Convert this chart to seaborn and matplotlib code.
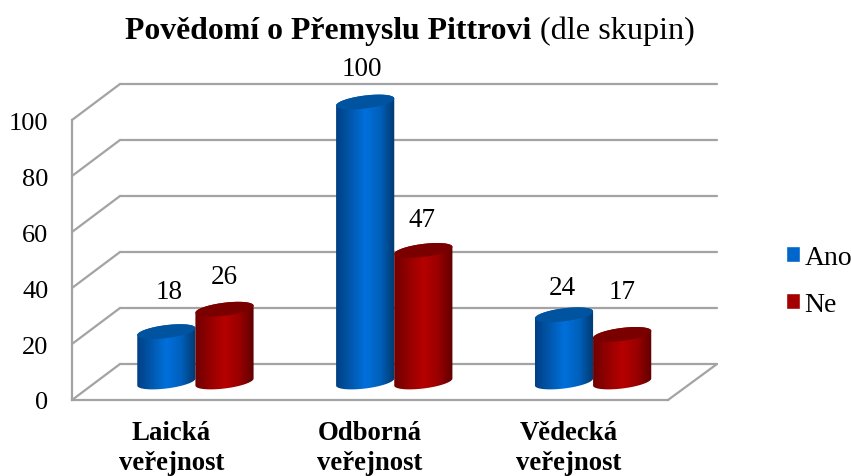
import matplotlib
matplotlib.use("Agg")
import matplotlib.pyplot as plt
from matplotlib.colors import LinearSegmentedColormap
from matplotlib.patches import ConnectionPatch, Polygon
import numpy as np
import pandas as pd
import seaborn as sns

categories = ['Laická\nveřejnost', 'Odborná\nveřejnost', 'Vědecká\nveřejnost']
ano_values = [18, 100, 24]
ne_values = [26, 47, 17]
y_ticks = [0, 20, 40, 60, 80, 100]

# label offsets above the bar top, in pixels
ano_label_shift = [(3, 40), (-3, 34), (-2, 27)]
ne_label_shift = [(0, 33), (-1, 31), (0, 43)]

W, H = 851, 477
GRID = '#a3a3a3'

sns.set_theme(style='white')
plt.rcParams['font.family'] = ['Liberation Serif', 'DejaVu Serif']

fig = plt.figure(figsize=(W / 100, H / 100), dpi=100)


def make_axes(left, right, top, bottom):
    ax = fig.add_axes([left / W, 1 - bottom / H, (right - left) / W, (bottom - top) / H])
    ax.patch.set_visible(False)
    return ax


# three planes of the fake 3D box: back wall, bars, front axis
ax_back = make_axes(120, 717, 85, 365)
ax_mid = make_axes(96, 692.5, 103, 383)
ax_front = make_axes(72, 668, 121, 401)

df = pd.DataFrame({
    'skupina': categories * 2,
    'odpoved': ['Ano'] * 3 + ['Ne'] * 3,
    'pocet': ano_values + ne_values,
})
sns.barplot(data=df, x='skupina', y='pocet', hue='odpoved', ax=ax_mid, width=0.585, gap=0,
            palette={'Ano': '#0066cc', 'Ne': '#a50000'}, saturation=1)
handles, labels = ax_mid.get_legend_handles_labels()
ax_mid.get_legend().remove()

for ax in (ax_back, ax_mid, ax_front):
    ax.set_xlim(-0.5, 2.5)
    ax.set_ylim(0, 100)
    ax.set_xlabel('')
    ax.set_ylabel('')
    sns.despine(ax=ax, left=True, bottom=True)

ax_mid.set_xticks([])
ax_mid.set_yticks([])

ax_back.set_xticks([])
ax_back.set_yticks(y_ticks)
ax_back.set_yticklabels([])
ax_back.grid(axis='y', color=GRID, lw=1.6)
for line in ax_back.get_ygridlines():
    line.set_clip_on(False)
ax_back.tick_params(length=0)

ax_front.set_xticks(range(3))
ax_front.set_xticklabels(categories, fontsize=19.3, fontweight='bold', linespacing=1.27)
ax_front.set_yticks(y_ticks)
ax_front.tick_params(axis='y', length=0, pad=17, labelsize=19, labelcolor='black')
ax_front.tick_params(axis='x', length=0, pad=14.5, labelcolor='black')
for side in ('left', 'bottom'):
    ax_front.spines[side].set_visible(True)
    ax_front.spines[side].set_color(GRID)
    ax_front.spines[side].set_linewidth(1.6)

# diagonal edges of the box
for v in y_ticks:
    fig.add_artist(ConnectionPatch((-0.5, v), (-0.5, v), ax_front.transData, ax_back.transData,
                                   color=GRID, lw=1.6))
fig.add_artist(ConnectionPatch((2.5, 0), (2.5, 0), ax_front.transData, ax_back.transData,
                               color=GRID, lw=1.6))

# cylinders are built on top of the bars seaborn placed
px_y = 2.8  # pixels per value unit
ell_b = 6.5 / px_y
ell_k = 3.5 / px_y
shades = {
    0: (['#003f85', '#0058ad', '#0070dc', '#0060bc', '#00396f'], '#00549f'),
    1: (['#6f0000', '#950000', '#b60000', '#9a0000', '#5f0000'], '#7a0000'),
}
t_low = np.linspace(np.pi, 2 * np.pi, 60)
t_up = np.linspace(0, np.pi, 60)
z = 3
for i, container in enumerate(ax_mid.containers):
    cmap = LinearSegmentedColormap.from_list('cyl', shades[i][0])
    for bar in container:
        x0, w, h = bar.get_x(), bar.get_width(), bar.get_height()
        bar.set_visible(False)
        a = w / 2
        cx = x0 + a
        low = np.column_stack([cx + a * np.cos(t_low), ell_b * np.sin(t_low) + ell_k * np.cos(t_low)])
        up = np.column_stack([cx + a * np.cos(t_up), h + ell_b * np.sin(t_up) + ell_k * np.cos(t_up)])
        body = Polygon(np.vstack([low, up]), closed=True, transform=ax_mid.transData, fc='none', ec='none',
                       clip_on=False)
        ax_mid.add_patch(body)
        img = ax_mid.imshow(np.linspace(0, 1, 128).reshape(1, -1), cmap=cmap, aspect='auto',
                            extent=(x0, x0 + w, -5, h + 5), zorder=z, interpolation='bilinear')
        img.set_clip_box(fig.bbox)
        img.set_clip_path(body)
        t = np.linspace(0, 2 * np.pi, 120)
        cap = np.column_stack([cx + a * np.cos(t), h + ell_b * np.sin(t) + ell_k * np.cos(t)])
        ax_mid.add_patch(Polygon(cap, closed=True, fc=shades[i][1], ec='none', zorder=z + 0.5, clip_on=False))
        z += 1

ax_mid.set_xlim(-0.5, 2.5)
ax_mid.set_ylim(0, 100)

# value labels
for container, shifts in zip(ax_mid.containers, (ano_label_shift, ne_label_shift)):
    for bar, (dx, dy) in zip(container, shifts):
        ax_mid.annotate(f'{bar.get_height():.0f}', (bar.get_x() + bar.get_width() / 2, bar.get_height()),
                        xytext=(dx, dy), textcoords='offset pixels', ha='center', va='center',
                        fontsize=19.5, color='black', annotation_clip=False, zorder=50)

# legend
fig.legend(handles, labels, loc='center left', bbox_to_anchor=(786 / W, 1 - 282 / H), frameon=False,
           fontsize=20, handlelength=0.52, handleheight=0.52, handletextpad=0.15, labelspacing=0.8,
           labelcolor='black', borderpad=0, borderaxespad=0)

# title: bold part followed by regular part
fig.canvas.draw()
t1 = fig.text(125 / W, 1 - 31.5 / H, 'Povědomí o Přemyslu Pittrovi', fontsize=22.9, fontweight='bold',
              ha='left', va='center', color='black')
bb = t1.get_window_extent(fig.canvas.get_renderer())
fig.text((bb.x1 + 9) / W, 1 - 31.5 / H, '(dle skupin)', fontsize=23.2, ha='left', va='center', color='black')

fig.savefig('out.png', dpi=100)
